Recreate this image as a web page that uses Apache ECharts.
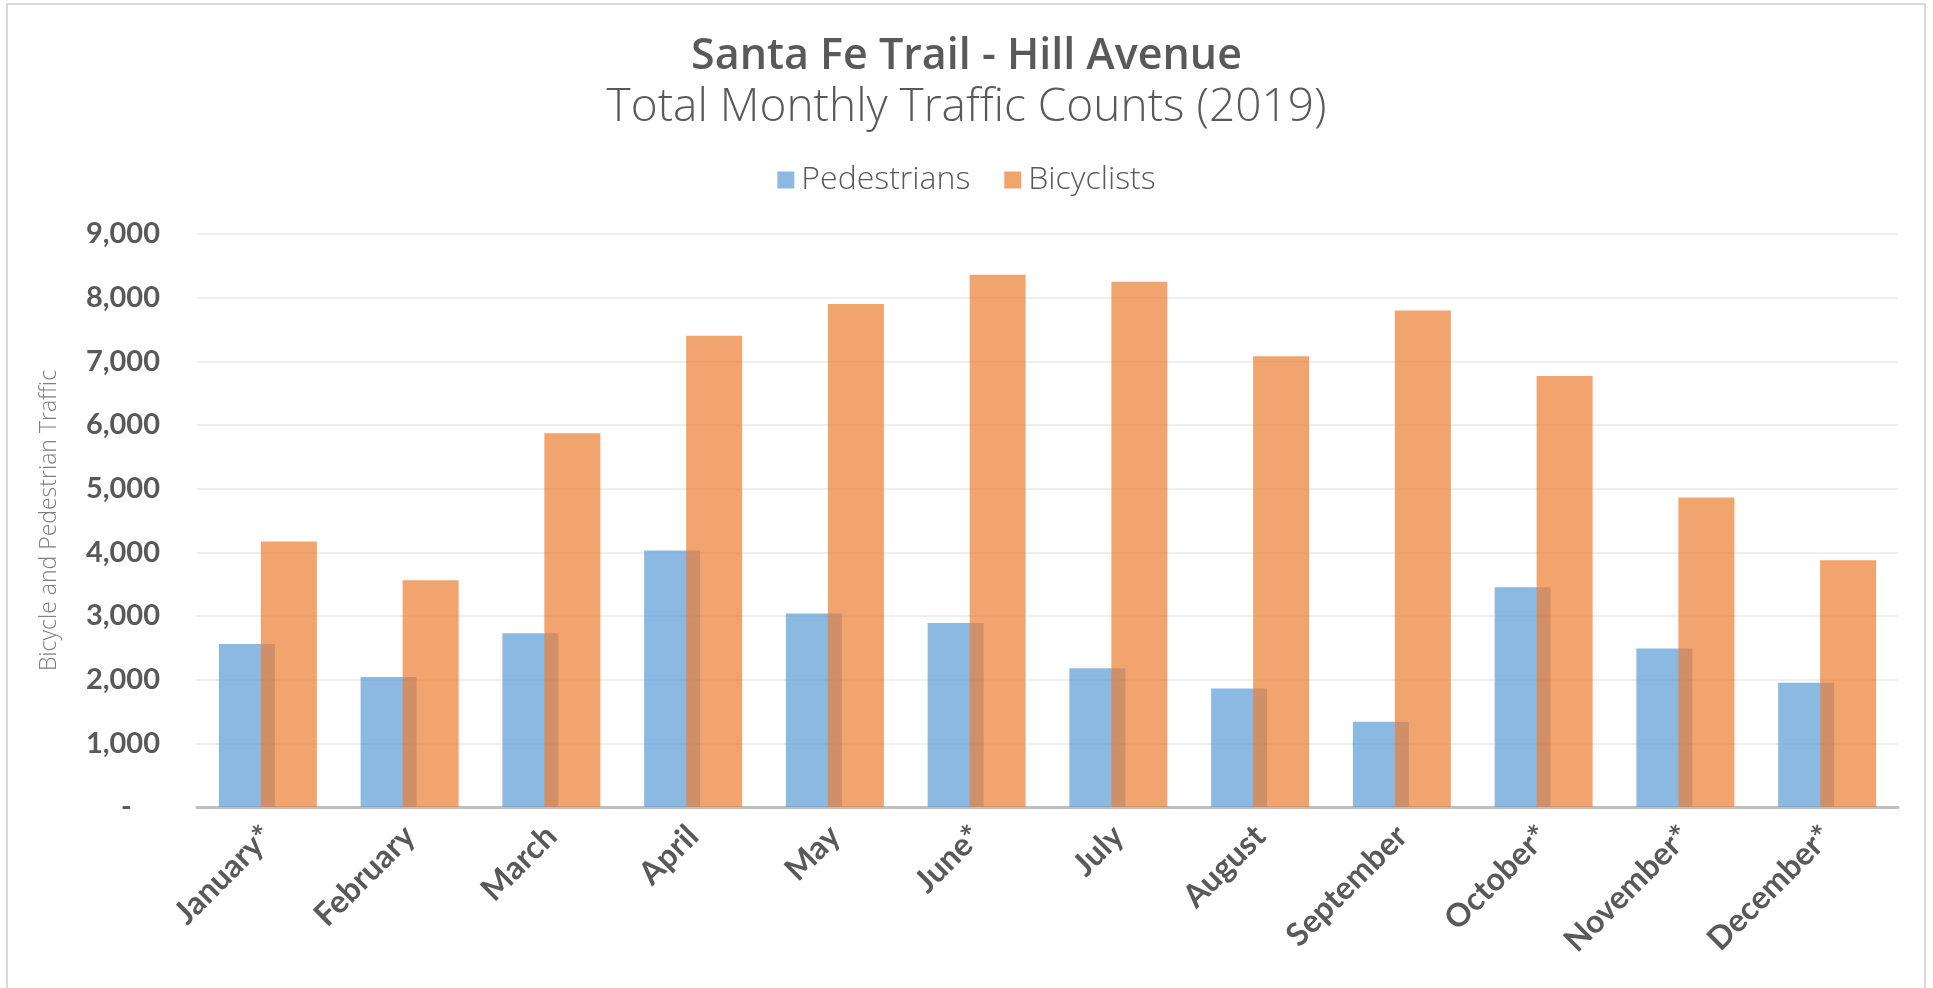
<!DOCTYPE html>
<html>
<head>
<meta charset="utf-8">
<title>Santa Fe Trail - Hill Avenue</title>
<script src="https://cdn.jsdelivr.net/npm/echarts@6/dist/echarts.min.js"></script>
<style>
  html, body { margin: 0; padding: 0; background: #fff; }
  #chart { width: 1933px; height: 988px; }
</style>
</head>
<body>
<div id="chart"></div>
<script>
// monthly counts
const months = ['January*', 'February', 'March', 'April', 'May', 'June*',
  'July', 'August', 'September', 'October*', 'November*', 'December*']
const pedestrians = [2560, 2040, 2730, 4030, 3040, 2890, 2180, 1860, 1340, 3450, 2490, 1950]
const bicyclists = [4170, 3560, 5870, 7400, 7900, 8360, 8250, 7080, 7800, 6770, 4860, 3875]

const textColor = '#595959'

const chart = echarts.init(document.getElementById('chart'))
chart.setOption({
  animation: false,
  title: [
    { text: 'Santa Fe Trail - Hill Avenue', left: 'center', top: 30,
      textStyle: { fontFamily: 'Open Sans', fontWeight: 600, fontSize: 43, color: textColor } },
    { text: 'Total Monthly Traffic Counts (2019)', left: 'center', top: 80,
      textStyle: { fontFamily: 'Open Sans', fontWeight: 300, fontSize: 46, color: textColor } }
  ],
  legend: {
    top: 159, left: 'center', icon: 'rect', itemWidth: 17, itemHeight: 17, itemGap: 34,
    textStyle: { fontFamily: 'Open Sans', fontWeight: 300, fontSize: 32, color: textColor, padding: [0, 0, 0, 2] }
  },
  graphic: [{
    type: 'rect', silent: true,
    shape: { x: 7, y: 4, width: 1918, height: 1010 },
    style: { fill: 'none', stroke: '#d9d9d9', lineWidth: 2 }
  }],
  grid: { left: 197, right: 35, top: 234, bottom: 181, containLabel: false, outerBoundsMode: 'none' },
  xAxis: {
    type: 'category', data: months,
    axisTick: { show: false },
    axisLine: { lineStyle: { color: '#bfbfbf', width: 3 } },
    axisLabel: { interval: 0, rotate: 45, margin: 24, fontFamily: 'Lato', fontWeight: 700, fontSize: 32, color: textColor }
  },
  yAxis: {
    type: 'value', min: 0, max: 9000, interval: 1000,
    name: 'Bicycle and Pedestrian Traffic', nameLocation: 'middle', nameGap: 136,
    nameTextStyle: { fontFamily: 'Open Sans', fontWeight: 300, fontSize: 23, color: '#7f7f7f' },
    axisLine: { show: false }, axisTick: { show: false },
    splitLine: { lineStyle: { color: '#eeeeee', width: 2 } },
    axisLabel: {
      margin: 37, fontFamily: 'Lato', fontWeight: 700, fontSize: 29, color: textColor,
      formatter: v => v === 0 ? '-    ' : v.toLocaleString('en-US')
    }
  },
  series: [
    { name: 'Pedestrians', type: 'bar', data: pedestrians, barWidth: 56, barGap: '-25%',
      itemStyle: { color: '#5b9bd5', opacity: 0.7 } },
    { name: 'Bicyclists', type: 'bar', data: bicyclists, barWidth: 56,
      itemStyle: { color: '#ed7d31', opacity: 0.7 } }
  ]
})
</script>
</body>
</html>
